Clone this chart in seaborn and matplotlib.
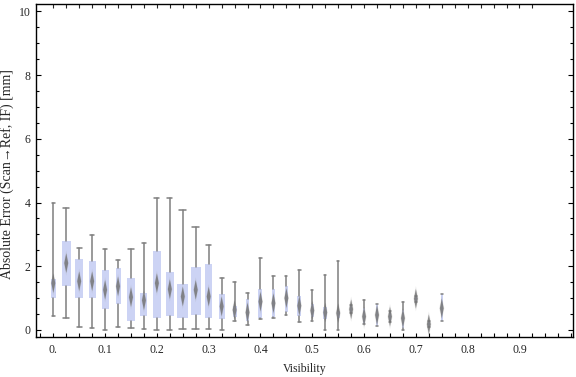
import numpy as np
import pandas as pd
import matplotlib
matplotlib.use("Agg")
import matplotlib.pyplot as plt
from matplotlib.ticker import MultipleLocator, FixedLocator
import seaborn as sns

# ---- data ----
visibility = [0.000, 0.025, 0.050, 0.075, 0.100, 0.125, 0.150, 0.175, 0.200, 0.225,
              0.250, 0.275, 0.300, 0.325, 0.350, 0.375, 0.400, 0.425, 0.450, 0.475,
              0.500, 0.525, 0.550, 0.575, 0.600, 0.625, 0.650, 0.675, 0.700, 0.725,
              0.750]
whisker_low = [0.44, 0.38, 0.09, 0.06, 0.00, 0.09, 0.06, 0.03, 0.00, 0.00,
               0.03, 0.03, 0.03, 0.00, 0.27, 0.15, 0.34, 0.37, 0.46, 0.24,
               0.27, 0.00, 0.00, 0.53, 0.18, 0.14, 0.24, 0.00, 0.87, 0.08,
               0.27]
q1 = [0.99, 1.37, 0.99, 0.99, 0.65, 0.83, 0.29, 0.45, 0.37, 0.45,
      0.37, 0.48, 0.39, 0.33, 0.42, 0.29, 0.39, 0.42, 0.55, 0.45,
      0.42, 0.36, 0.39, 0.53, 0.18, 0.14, 0.28, 0.07, 0.87, 0.08,
      0.27]
median = [1.47, 2.10, 1.53, 1.53, 1.26, 1.37, 1.03, 0.93, 1.47, 1.28,
          1.05, 1.26, 1.05, 0.74, 0.63, 0.55, 0.89, 0.84, 1.00, 0.76,
          0.61, 0.55, 0.53, 0.65, 0.42, 0.47, 0.42, 0.37, 0.98, 0.18,
          0.68]
q3 = [1.61, 2.78, 2.24, 2.18, 1.89, 1.95, 1.63, 1.16, 2.49, 1.83,
      1.45, 1.99, 2.08, 1.14, 0.76, 0.98, 1.29, 1.29, 1.38, 1.07,
      0.82, 0.73, 0.60, 0.78, 0.69, 0.81, 0.53, 0.63, 1.07, 0.27,
      1.13]
whisker_high = [3.97, 3.84, 2.58, 2.99, 2.55, 2.20, 2.55, 2.72, 4.13, 4.13,
                3.78, 3.23, 2.67, 1.63, 1.51, 1.16, 2.26, 1.69, 1.69, 1.88,
                1.25, 1.73, 2.17, 0.78, 0.95, 0.81, 0.60, 0.87, 1.07, 0.27,
                1.13]
# relative box widths (sample weight), as drawn in the reference
box_weight = [5, 9, 8, 7, 7, 5, 8, 7, 8, 8,
              11, 10, 7, 6, 4, 3.3, 4, 3, 3, 4,
              3, 3.7, 3.3, 2.3, 2.3, 2, 2, 2.7, 2.3, 2.3,
              2.3]

xtick_values = [0.0, 0.1, 0.2, 0.3, 0.4, 0.5, 0.6, 0.7, 0.8, 0.9]
xtick_labels = ["0.", "0.1", "0.2", "0.3", "0.4", "0.5", "0.6", "0.7", "0.8", "0.9"]
ytick_values = [0, 2, 4, 6, 8, 10]

df = pd.DataFrame({"visibility": visibility, "wlo": whisker_low, "q1": q1,
                   "med": median, "q3": q3, "whi": whisker_high, "w": box_weight})

# ---- style ----
sns.set_theme(style="ticks")
plt.rcParams["font.family"] = ["Liberation Serif", "DejaVu Serif"]
plt.rcParams["font.size"] = 8.5

fig = plt.figure(figsize=(5.76, 3.77), dpi=100)
ax = fig.add_axes([36 / 576, 40 / 377, 537 / 576, 333 / 377])

px_per_unit = 518.0
box_color = "#ccd3f4"
whisk_color = "#7f7f7f"

stats = []
for _, r in df.iterrows():
    stats.append(dict(med=r["med"], q1=r["q1"], q3=r["q3"],
                      whislo=r["wlo"], whishi=r["whi"], fliers=[]))
widths = df["w"].to_numpy() / px_per_unit
ax.bxp(stats, positions=df["visibility"].to_numpy(), widths=widths,
       capwidths=np.clip(widths * 0.65, 2.2 / px_per_unit, None),
       patch_artist=True, showfliers=False, manage_ticks=False,
       boxprops=dict(facecolor=box_color, edgecolor="none", linewidth=0),
       whiskerprops=dict(color=whisk_color, linewidth=1.1),
       capprops=dict(color=whisk_color, linewidth=1.1),
       medianprops=dict(linewidth=0, color="none"), zorder=2)

diamond = [(0, 1), (0.2, 0), (0, -1), (-0.2, 0), (0, 1)]
sns.scatterplot(data=df, x="visibility", y="med", marker=diamond, s=330,
                color="#a0a0a0", alpha=0.25, edgecolor="none", linewidth=0,
                ax=ax, zorder=3, legend=False)
sns.scatterplot(data=df, x="visibility", y="med", marker=diamond, s=200,
                color="#707070", alpha=0.8, edgecolor="none", linewidth=0,
                ax=ax, zorder=4, legend=False)

ax.set_xlim(-0.0334, 1.0033)
ax.set_ylim(-0.22, 10.23)

ax.xaxis.set_major_locator(FixedLocator(xtick_values))
ax.set_xticklabels(xtick_labels)
ax.xaxis.set_minor_locator(MultipleLocator(0.025))
ax.yaxis.set_major_locator(FixedLocator(ytick_values))
ax.yaxis.set_minor_locator(MultipleLocator(0.5))

ax.tick_params(axis="x", which="both", direction="in", length=3, width=0.8,
               bottom=True, top=False, color="black", labelsize=8.5, pad=5)
ax.tick_params(axis="y", which="major", direction="in", length=3.4, width=0.8,
               left=True, right=True, color="black", labelsize=8.5, pad=4)
ax.tick_params(axis="y", which="minor", direction="in", length=2.3, width=0.8,
               left=True, right=True, color="black")

top = ax.secondary_xaxis("top")
top.xaxis.set_major_locator(FixedLocator(np.arange(0, 0.93, 0.025)))
top.tick_params(axis="x", direction="in", length=3, width=0.8, labeltop=False)
top.spines["top"].set_visible(False)

for s in ax.spines.values():
    s.set_visible(True)
    s.set_color("black")
    s.set_linewidth(1.0)

ax.set_xlabel("Visibility", fontsize=8.5, labelpad=5)
ax.set_ylabel("Absolute Error (Scan\u2192Ref, IF) [mm]", fontsize=10)
ax.yaxis.set_label_coords(-0.041, 0.49)
ax.grid(False)

fig.savefig("out.png", dpi=100)
